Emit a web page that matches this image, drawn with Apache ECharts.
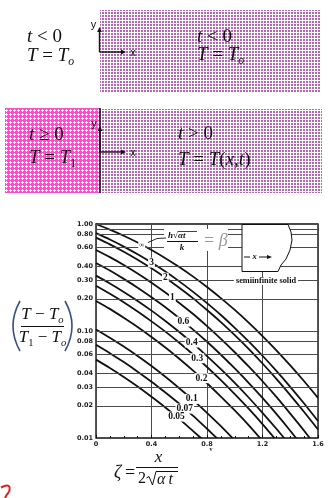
<!DOCTYPE html>
<html>
<head>
<meta charset="utf-8">
<script src="https://cdn.jsdelivr.net/npm/echarts@6/dist/echarts.min.js"></script>
<style>
  html, body { margin: 0; padding: 0; background: #fff; }
  #chart { width: 328px; height: 498px; }
</style>
</head>
<body>
<div id="chart"></div>
<script>
// ---- data: dimensionless temperature vs. zeta for each beta = h*sqrt(alpha t)/k ----
const zeta = [0, 0.1, 0.2, 0.3, 0.4, 0.5, 0.6, 0.7, 0.8, 0.9, 1.0, 1.1, 1.2, 1.3, 1.4, 1.5, 1.6];

const betaNames = ['∞', '3', '2', '1', '0.6', '0.4', '0.3', '0.2', '0.1', '0.07', '0.05'];

const thetaInf = [1.0, 0.8875, 0.7773, 0.6714, 0.5716, 0.4795, 0.3961, 0.3222, 0.2579, 0.2031, 0.1573, 0.1198, 0.0897, 0.0660, 0.0477, 0.0339, 0.0237];
const theta3   = [0.821, 0.716, 0.615, 0.521, 0.436, 0.359, 0.291, 0.232, 0.182, 0.141, 0.107, 0.0799, 0.0587, 0.0424, 0.0301, 0.0210, 0.0144];
const theta2   = [0.745, 0.645, 0.551, 0.464, 0.385, 0.315, 0.254, 0.202, 0.157, 0.121, 0.0914, 0.0680, 0.0497, 0.0357, 0.0252, 0.0175, 0.0120];
const theta1   = [0.572, 0.490, 0.414, 0.345, 0.283, 0.229, 0.183, 0.144, 0.111, 0.0845, 0.0633, 0.0466, 0.0339, 0.0242, 0.0169, 0.0117, 0.0079];
const theta06  = [0.432, 0.367, 0.307, 0.254, 0.207, 0.167, 0.132, 0.103, 0.0793, 0.0600, 0.0447, 0.0328, 0.0237, 0.0168, 0.0117, 0.0080];
const theta04  = [0.329, 0.278, 0.232, 0.191, 0.155, 0.124, 0.0978, 0.0761, 0.0583, 0.0440, 0.0327, 0.0239, 0.0172, 0.0122, 0.0085];
const theta03  = [0.265, 0.223, 0.186, 0.152, 0.123, 0.0986, 0.0776, 0.0603, 0.0461, 0.0347, 0.0257, 0.0188, 0.0135, 0.0095];
const theta02  = [0.191, 0.161, 0.133, 0.109, 0.0878, 0.0700, 0.0550, 0.0426, 0.0325, 0.0244, 0.0181, 0.0132, 0.0094];
const theta01  = [0.1035, 0.0866, 0.0715, 0.0583, 0.0470, 0.0373, 0.0292, 0.0226, 0.0172, 0.0129, 0.0095];
const theta007 = [0.0744, 0.0621, 0.0512, 0.0417, 0.0336, 0.0266, 0.0209, 0.0161, 0.0122, 0.0092];
const theta005 = [0.0540, 0.0451, 0.0372, 0.0303, 0.0243, 0.0193, 0.0151, 0.0116, 0.0089];

const thetaSets = [thetaInf, theta3, theta2, theta1, theta06, theta04, theta03, theta02, theta01, theta007, theta005];

// zeta at which each curve carries its beta tag
const tagZeta = [0.33, 0.40, 0.50, 0.55, 0.63, 0.69, 0.73, 0.76, 0.69, 0.64, 0.58];

// y-axis ticks (log scale)
const yTickValues = [1, 0.8, 0.6, 0.4, 0.3, 0.2, 0.1, 0.08, 0.06, 0.04, 0.03, 0.02, 0.01];
const yTickLabels = ['1.00', '0.80', '0.60', '0.40', '0.30', '0.20', '0.10', '0.08', '0.06', '0.04', '0.03', '0.02', '0.01'];
const yExtraGrid = [0.9];

// ---- helpers ----
const SERIF = "'Liberation Serif', 'DejaVu Serif', serif";
const SANS = "'Liberation Sans', 'DejaVu Sans', sans-serif";
const measureCtx = document.createElement('canvas').getContext('2d');

function formula(x, y, size, frags, opt) {
  opt = opt || {};
  const family = opt.family || SERIF;
  const pieces = frags.map(function (fr) {
    const sz = fr.sub ? size * 0.62 : size;
    const style = fr.i ? 'italic' : 'normal';
    const weight = opt.bold ? 'bold' : 'normal';
    measureCtx.font = style + ' ' + weight + ' ' + sz + 'px ' + family;
    return { s: fr.s, sz: sz, style: style, weight: weight, w: measureCtx.measureText(fr.s).width, dy: fr.sub ? size * 0.3 : 0 };
  });
  const total = pieces.reduce(function (a, p) { return a + p.w; }, 0);
  let cx = opt.center ? x - total / 2 : x;
  return pieces.map(function (p) {
    const el = {
      type: 'text', x: cx, y: y + p.dy, z: opt.z || 60, silent: true,
      style: {
        text: p.s, fontSize: p.sz, fontFamily: family, fontStyle: p.style, fontWeight: p.weight,
        fill: opt.color || '#111', textAlign: 'left', align: 'left',
        textVerticalAlign: 'middle', verticalAlign: 'middle'
      }
    };
    cx += p.w;
    return el;
  });
}

function plainText(x, y, s, size, opt) {
  opt = opt || {};
  return {
    type: 'text', x: x, y: y, z: opt.z || 60, silent: true,
    style: {
      text: s, fontSize: size, fontFamily: opt.family || SERIF,
      fontStyle: opt.italic ? 'italic' : 'normal', fontWeight: opt.bold ? 'bold' : 'normal',
      fill: opt.color || '#111', textAlign: opt.align || 'center', align: opt.align || 'center',
      textVerticalAlign: 'middle', verticalAlign: 'middle',
      backgroundColor: opt.bg, padding: opt.pad
    }
  };
}

function seg(x1, y1, x2, y2, color, w, z) {
  return { type: 'line', z: z || 40, silent: true, shape: { x1: x1, y1: y1, x2: x2, y2: y2 }, style: { stroke: color || '#111', lineWidth: w || 1 } };
}

function tri(points, z) {
  return { type: 'polygon', z: z || 40, silent: true, shape: { points: points }, style: { fill: '#111' } };
}

function axesGlyph(ox, oy, topY, rightX) {
  return [
    seg(ox, oy, ox, topY + 3, '#111', 1.4),
    seg(ox, oy, rightX - 3, oy, '#111', 1.4),
    tri([[ox - 2.4, topY + 5], [ox, topY], [ox + 2.4, topY + 5]]),
    tri([[rightX - 5, oy - 2.4], [rightX, oy], [rightX - 5, oy + 2.4]]),
    plainText(ox - 6, topY - 2, 'y', 11, { family: SANS }),
    plainText(rightX + 7, oy + 1, 'x', 11, { family: SANS })
  ];
}

// fill patterns for the two regions of the solid
function dotPattern() {
  const c = document.createElement('canvas');
  c.width = 3; c.height = 3;
  const g = c.getContext('2d');
  g.fillStyle = '#ffffff'; g.fillRect(0, 0, 3, 3);
  g.fillStyle = '#b468b4'; g.fillRect(0, 0, 2, 2);
  return c;
}
function hatchPattern() {
  const c = document.createElement('canvas');
  c.width = 4; c.height = 4;
  const g = c.getContext('2d');
  g.fillStyle = '#f550c8'; g.fillRect(0, 0, 4, 4);
  g.fillStyle = '#ffffff';
  g.fillRect(1, 2, 3, 1); g.fillRect(2, 1, 1, 3);
  return c;
}

// value on a curve at a given zeta (log-linear between samples)
function valueAt(arr, z) {
  for (let i = 0; i < arr.length - 1; i++) {
    if (z >= zeta[i] && z <= zeta[i + 1]) {
      const t = (z - zeta[i]) / (zeta[i + 1] - zeta[i]);
      return Math.pow(10, Math.log10(arr[i]) * (1 - t) + Math.log10(arr[i + 1]) * t);
    }
  }
  return arr[arr.length - 1];
}

// ---- graphic annotations ----
const dots = dotPattern();
const hatch = hatchPattern();
const I = true;
let g = [];

// initial state: whole solid at T_o
g.push({ type: 'rect', z: 1, silent: true, shape: { x: 100, y: 10, width: 220, height: 83 }, style: { fill: { image: dots, repeat: 'repeat' } } });
g = g.concat(formula(27, 37, 19, [{ s: 't', i: I }, { s: ' < 0' }]));
g = g.concat(formula(27, 56, 19, [{ s: 'T', i: I }, { s: ' = ' }, { s: 'T', i: I }, { s: 'o', i: I, sub: true }]));
g = g.concat(formula(197, 37, 19, [{ s: 't', i: I }, { s: ' < 0' }]));
g = g.concat(formula(197, 55, 19, [{ s: 'T', i: I }, { s: ' = ' }, { s: 'T', i: I }, { s: 'o', i: I, sub: true }]));
g = g.concat(axesGlyph(99.5, 52, 27, 126));

// surface suddenly raised to T_1
g.push({ type: 'rect', z: 1, silent: true, shape: { x: 5, y: 108, width: 95, height: 85 }, style: { fill: { image: hatch, repeat: 'repeat' } } });
g.push({ type: 'rect', z: 1, silent: true, shape: { x: 100, y: 109, width: 222, height: 84 }, style: { fill: { image: dots, repeat: 'repeat' } } });
g.push(seg(100, 108, 100, 193, '#111', 1.5));
g = g.concat(formula(29, 135, 19, [{ s: 't', i: I }, { s: ' ≥ 0' }]));
g = g.concat(formula(29, 158, 19, [{ s: 'T', i: I }, { s: ' = ' }, { s: 'T', i: I }, { s: '1', sub: true }]));
g = g.concat(formula(178, 134, 19, [{ s: 't', i: I }, { s: ' > 0' }]));
g = g.concat(formula(178, 160, 19, [{ s: 'T', i: I }, { s: ' = ' }, { s: 'T', i: I }, { s: '(' }, { s: 'x', i: I }, { s: ',' }, { s: 't', i: I }, { s: ')' }]));
g = g.concat(axesGlyph(100, 152, 126, 126));

// y-axis title: (T - T_o)/(T_1 - T_o)
g = g.concat(formula(42.5, 315, 17, [{ s: 'T', i: I }, { s: ' − ' }, { s: 'T', i: I }, { s: 'o', i: I, sub: true }], { center: true }));
g.push(seg(21, 326.5, 64, 326.5, '#111', 1));
g = g.concat(formula(42.5, 338, 17, [{ s: 'T', i: I }, { s: '1', sub: true }, { s: ' − ' }, { s: 'T', i: I }, { s: 'o', i: I, sub: true }], { center: true }));
g.push({ type: 'bezierCurve', z: 40, silent: true, shape: { x1: 20, y1: 301, cpx1: 6, cpy1: 326, x2: 20, y2: 351 }, style: { stroke: '#3b4f86', lineWidth: 1.6, fill: null } });
g.push({ type: 'bezierCurve', z: 40, silent: true, shape: { x1: 65, y1: 301, cpx1: 79, cpy1: 326, x2: 65, y2: 351 }, style: { stroke: '#3b4f86', lineWidth: 1.6, fill: null } });

// x-axis title: zeta = x / (2 sqrt(alpha t))
g = g.concat(formula(114, 473, 18, [{ s: 'ζ', i: I }, { s: '\u2009=' }]));
g = g.concat(formula(158.5, 458, 17, [{ s: 'x', i: I }], { center: true }));
g.push(seg(136, 467.5, 178, 467.5, '#111', 1));
g = g.concat(formula(138, 479, 16, [{ s: '2' }]));
g.push({ type: 'polyline', z: 40, silent: true, shape: { points: [[146.5, 478], [149, 476.5], [152.5, 485], [156, 471.5], [178, 471.5]] }, style: { stroke: '#111', lineWidth: 1, fill: null } });
g = g.concat(formula(157, 480, 16, [{ s: 'α', i: I }, { s: '\u2009t', i: I }]));
g.push(plainText(211, 449, 'v', 6, { bold: true }));

// inset sketch of the semi-infinite solid
g.push({ type: 'polygon', z: 50, silent: true,
  shape: { points: [[242, 224.5], [288, 224.5], [291, 232], [292, 240], [290, 250], [286, 259], [281, 265], [278, 271.5], [242, 271.5]] },
  style: { fill: '#fff', stroke: '#111', lineWidth: 1 } });
g.push(seg(244, 257, 250, 257, '#111', 1, 55));
g.push(plainText(254.5, 256.5, 'x', 8.5, { italic: true, bold: true, z: 56 }));
g.push(seg(259, 257, 269, 257, '#111', 1, 55));
g.push(tri([[267, 255], [272, 257], [267, 259]], 55));
g.push(plainText(266, 281, 'semiinfinite solid', 8.3, { bold: true, bg: '#fff', pad: [0, 2], z: 56 }));

// beta definition
g.push({ type: 'rect', z: 50, silent: true, shape: { x: 164, y: 229, width: 64, height: 22 }, style: { fill: '#fff' } });
g = g.concat(formula(168, 235.5, 9, [{ s: 'h', i: I }, { s: '√' }, { s: 'αt', i: I }], { bold: true, z: 56 }));
g.push(seg(178, 231.5, 197, 231.5, '#111', 0.8, 56));
g.push(seg(167, 241.5, 198, 241.5, '#111', 1, 56));
g = g.concat(formula(182, 247.5, 9, [{ s: 'k', i: I }], { bold: true, center: true, z: 56 }));
g = g.concat(formula(204, 241.5, 18, [{ s: '= ' }, { s: 'β', i: I }], { color: '#9a9a9a', z: 56 }));
g.push({ type: 'polyline', z: 55, silent: true, shape: { points: [[166, 238], [157, 238.5], [148, 242.5]] }, style: { stroke: '#111', lineWidth: 0.9, fill: null } });

// stray red pen mark in the lower-left corner
g.push({ type: 'bezierCurve', z: 40, silent: true, shape: { x1: 1, y1: 487.5, cpx1: 12, cpy1: 482, x2: 9, y2: 492 }, style: { stroke: '#e0201c', lineWidth: 2, fill: null } });
g.push({ type: 'bezierCurve', z: 40, silent: true, shape: { x1: 9, y1: 492, cpx1: 6, cpy1: 495, x2: 5, y2: 498 }, style: { stroke: '#e0201c', lineWidth: 2, fill: null } });

// ---- series ----
const tagLabel = {
  show: true, position: 'inside', color: '#111', fontSize: 9.5, fontWeight: 'bold',
  fontFamily: SERIF, backgroundColor: '#fff', padding: [0, 1]
};

const series = thetaSets.map(function (arr, k) {
  const pts = arr.map(function (v, i) { return [zeta[i], v]; });
  const tz = tagZeta[k];
  const s = {
    name: betaNames[k], type: 'line', data: pts, smooth: 0.25, symbol: 'none', clip: true, silent: true,
    lineStyle: { color: '#111', width: 1.8 }, z: 3,
    markPoint: {
      symbol: 'circle', symbolSize: 1, silent: true, animation: false,
      itemStyle: { color: 'rgba(0,0,0,0)' },
      label: Object.assign({}, tagLabel, k === 0 ? { fontSize: 7 } : {}, { formatter: betaNames[k] }),
      data: [{ coord: [tz, valueAt(arr, tz)] }]
    }
  };
  if (k === 0) {
    const gridLines = yTickValues.map(function (v, i) {
      return { yAxis: v, label: { show: true, formatter: yTickLabels[i] } };
    }).concat(yExtraGrid.map(function (v) { return { yAxis: v, label: { show: false } }; }));
    s.markLine = {
      silent: true, animation: false, symbol: ['none', 'none'], precision: 3,
      lineStyle: { color: '#4a4a4a', width: 1, type: 'solid' },
      label: { position: 'start', distance: 3, fontSize: 6.5, fontWeight: 'bold', fontFamily: "'DejaVu Sans', sans-serif", color: '#222' },
      emphasis: { disabled: true },
      data: gridLines
    };
  }
  return s;
});

const chart = echarts.init(document.getElementById('chart'), null, { renderer: 'canvas' });
chart.setOption({
  animation: false,
  backgroundColor: '#fff',
  grid: { left: 96, top: 224, width: 222, height: 214, show: true, borderColor: '#111', borderWidth: 1.4, backgroundColor: 'transparent' },
  xAxis: {
    type: 'value', min: 0, max: 1.6, interval: 0.4,
    axisLine: { show: false },
    axisTick: { show: true, inside: true, length: 3, lineStyle: { color: '#111' } },
    minorTick: { show: true, splitNumber: 4, length: 2, lineStyle: { color: '#111' } },
    splitLine: { show: true, lineStyle: { color: '#4a4a4a', width: 1 } },
    axisLabel: {
      margin: 3, fontSize: 6.5, fontWeight: 'bold', fontFamily: "'DejaVu Sans', sans-serif", color: '#222',
      formatter: function (v) { return v === 0 ? '0' : v.toFixed(1); }
    }
  },
  yAxis: {
    type: 'log', logBase: 10, min: 0.01, max: 1,
    axisLine: { show: false }, axisTick: { show: false }, axisLabel: { show: false },
    splitLine: { show: false }, minorSplitLine: { show: false }
  },
  graphic: { elements: g },
  series: series
});
</script>
</body>
</html>
